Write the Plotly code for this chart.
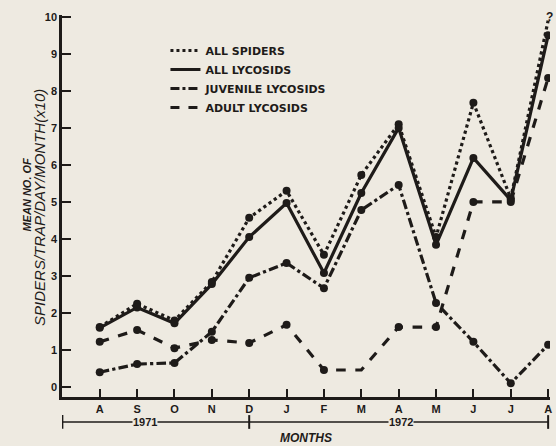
import plotly.graph_objects as go

months = ["A", "S", "O", "N", "D", "J", "F", "M", "A", "M", "J", "J", "A"]
all_spiders = [1.62, 2.25, 1.8, 2.84, 4.57, 5.3, 3.57, 5.73, 7.1, 4.05, 7.68, 5.1, 9.9]
all_lycosids = [1.6, 2.15, 1.72, 2.78, 4.05, 4.97, 3.08, 5.24, 7.0, 3.84, 6.19, 5.05, 9.5]
juvenile = [0.4, 0.62, 0.65, 1.49, 2.95, 3.35, 2.67, 4.78, 5.46, 2.27, 1.22, 0.1, 1.14]
adult = [1.22, 1.54, 1.05, 1.27, 1.19, 1.68, 0.46, 0.46, 1.62, 1.62, 5.0, 5.0, 8.35]
series_names = ["ALL SPIDERS", "ALL LYCOSIDS", "JUVENILE LYCOSIDS", "ADULT LYCOSIDS"]
years = ["1971", "1972"]
y_ticks = list(range(0, 11))

BG = "#eeeae1"
INK = "#1e1b19"
FONT = "Liberation Sans Narrow, Liberation Sans, Arial, sans-serif"
WIDE = "DejaVu Sans, Liberation Sans, sans-serif"

x = list(range(len(months)))
series = [all_spiders, all_lycosids, juvenile, adult]
dashes = ["dot", "solid", "dashdot", "dash"]
sizes = [
    [8] * 12 + [0],
    [8] * 13,
    [8] * 13,
    [8] * 7 + [0] + [8] * 5,
]

fig = go.Figure()
for name, vals, d, s in zip(series_names, series, dashes, sizes):
    fig.add_trace(go.Scatter(
        x=x, y=vals, mode="lines+markers", showlegend=False,
        line=dict(color=INK, width=3.2, dash=d),
        marker=dict(color=INK, size=s, opacity=1, line=dict(width=0)),
    ))
for name, d in zip(series_names, dashes):
    fig.add_trace(go.Scatter(
        x=[None], y=[None], mode="lines", name="<b>%s</b>" % name,
        line=dict(color=INK, width=3, dash=d),
    ))

# "?" at end of All spiders
fig.add_annotation(x=x[-1], y=all_spiders[-1], text="<b>?</b>", showarrow=False,
                   font=dict(size=12, color=INK, family=FONT), yshift=4, xshift=1)

# year bar
ybar = -0.0654
fig.add_shape(type="line", xref="x", yref="paper", x0=-1, x1=12, y0=ybar, y1=ybar,
              line=dict(color=INK, width=1.5))
for xc in [-1, 4, 12]:
    fig.add_shape(type="line", xref="x", yref="paper", x0=xc, x1=xc,
                  y0=ybar - 0.018, y1=ybar + 0.018, line=dict(color=INK, width=2))
for txt, xc in zip(years, [1.2, 8.05]):
    fig.add_annotation(x=xc, y=ybar, xref="x", yref="paper", text="<b>%s</b>" % txt,
                       showarrow=False, bgcolor=BG, borderpad=0, yanchor="middle",
                       font=dict(size=11, color=INK, family=FONT))
fig.add_annotation(x=5.52, y=-0.107, xref="x", yref="paper", text="<b><i>MONTHS</i></b>",
                   showarrow=False, yanchor="middle",
                   font=dict(size=12, color=INK, family=FONT))

# y title
fig.add_annotation(x=0, y=0.53, xref="paper", yref="paper", xshift=-35,
                   xanchor="center", yanchor="middle",
                   text="<b><i>MEAN NO. OF</i></b>", textangle=-90, showarrow=False,
                   font=dict(size=11, color=INK, family=FONT))
fig.add_annotation(x=0, y=0.495, xref="paper", yref="paper", xshift=-22,
                   xanchor="center", yanchor="middle",
                   text="<i>SPIDERS/TRAP/DAY/MONTH(x10)</i>", textangle=-90, showarrow=False,
                   font=dict(size=15, color=INK, family=FONT))

fig.update_layout(
    width=556, height=446,
    margin=dict(l=62, r=4, t=15, b=49),
    paper_bgcolor=BG, plot_bgcolor=BG,
    font=dict(family=FONT, color=INK),
    legend=dict(x=0.212, y=0.945, xanchor="left", yanchor="top",
                bgcolor="rgba(0,0,0,0)", font=dict(size=11, color=INK, family=WIDE),
                itemwidth=30, tracegroupgap=0),
    xaxis=dict(range=[-1.01, 12.05], tickmode="array", tickvals=x,
               ticktext=["<b>%s</b>" % m for m in months],
               ticks="inside", ticklen=8, tickwidth=1.5, tickcolor=INK,
               showline=True, linecolor=INK, linewidth=2.5, showgrid=False,
               zeroline=False, tickfont=dict(size=11, color=INK, family=FONT)),
    yaxis=dict(range=[-0.27, 10.05], tickmode="array", tickvals=y_ticks,
               ticktext=["<b>%d</b>" % t for t in y_ticks],
               ticks="inside", ticklen=9, tickwidth=2, tickcolor=INK,
               showline=True, linecolor=INK, linewidth=2.5, showgrid=False,
               zeroline=False, tickfont=dict(size=11, color=INK, family=FONT)),
)
fig.write_html("out.html", config={"displayModeBar": False},
               post_script="document.body.style.margin='0px';document.body.style.background='%s';" % BG)
